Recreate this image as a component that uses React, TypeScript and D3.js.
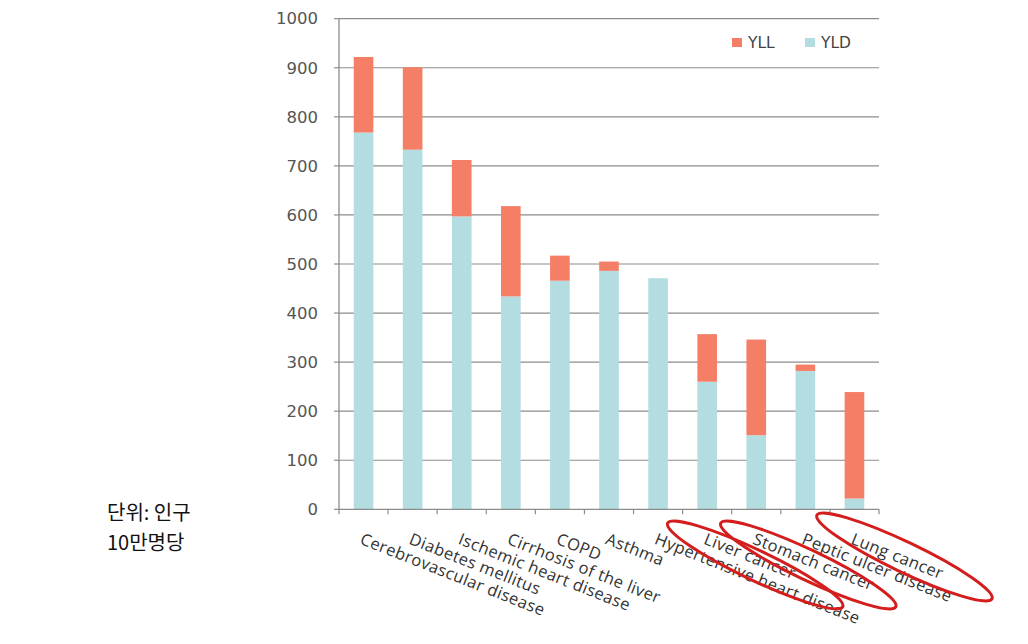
import React from "react";
import * as d3 from "d3";

const categories = [
  "Cerebrovascular disease",
  "Diabetes mellitus",
  "Ischemic heart disease",
  "Cirrhosis of the liver",
  "COPD",
  "Asthma",
  "Hypertensive heart disease",
  "Liver cancer",
  "Stomach cancer",
  "Peptic ulcer disease",
  "Lung cancer",
];
const yld = [768, 733, 597, 434, 466, 486, 471, 260, 151, 282, 22];
const yll = [154, 168, 115, 184, 51, 19, 0, 97, 195, 13, 217];
const yTicks = [0, 100, 200, 300, 400, 500, 600, 700, 800, 900, 1000];
const highlighted = ["Liver cancer", "Stomach cancer", "Lung cancer"];
const legendItems = ["YLL", "YLD"];

const COL_YLL = "#F47F66";
const COL_YLD = "#B3DDE1";

export default function App() {
  const left = 339, right = 879, top = 18.7, bottom = 509.3;
  const x = d3.scaleBand<string>().domain(categories).range([left, right]).paddingInner(0.6).paddingOuter(0.3);
  const xb = d3.scaleBand<string>().domain(categories).range([left, right]);
  const y = d3.scaleLinear().domain([0, 1000]).range([bottom, top]);
  const stacked = categories.map((c, i) => ({ c, yld: yld[i], yll: yll[i] }));
  const legendColors: Record<string, string> = { YLL: COL_YLL, YLD: COL_YLD };
  const legendX = [732, 805];
  return (
    <svg width={1028} height={644} style={{ position: "absolute", left: 0, top: 0, background: "#fff" }}>
      {/* gridlines */}
      {yTicks.filter((t) => t > 0).map((t) => (
        <line key={t} x1={left} x2={right} y1={y(t)} y2={y(t)} stroke="#8c8c8c" strokeWidth={1.2} />
      ))}
      {/* y tick marks and labels */}
      {yTicks.map((t) => (
        <g key={"yt" + t}>
          <line x1={left - 5} x2={left} y1={y(t)} y2={y(t)} stroke="#8c8c8c" strokeWidth={1.2} />
          <text x={318} y={y(t)} dy="0.35em" textAnchor="end" fontFamily="DejaVu Sans" fontSize={16.5} fill="#555">
            {t}
          </text>
        </g>
      ))}
      {/* bars */}
      {stacked.map((d) => (
        <g key={d.c}>
          <rect x={x(d.c)} width={x.bandwidth()} y={y(d.yld)} height={y(0) - y(d.yld)} fill={COL_YLD} />
          {d.yll > 0 && (
            <rect x={x(d.c)} width={x.bandwidth()} y={y(d.yld + d.yll)} height={y(d.yld) - y(d.yld + d.yll)} fill={COL_YLL} />
          )}
        </g>
      ))}
      {/* axes */}
      <line x1={left} x2={left} y1={top} y2={bottom} stroke="#8c8c8c" strokeWidth={1.3} />
      <line x1={left} x2={right} y1={bottom} y2={bottom} stroke="#8c8c8c" strokeWidth={1.3} />
      {categories.map((c) => (
        <line key={"xt" + c} x1={xb(c)} x2={xb(c)} y1={bottom} y2={bottom + 5} stroke="#8c8c8c" strokeWidth={1.2} />
      ))}
      <line x1={right} x2={right} y1={bottom} y2={bottom + 5} stroke="#8c8c8c" strokeWidth={1.2} />
      {/* x labels */}
      {categories.map((c) => {
        const cx = (xb(c) as number) + xb.bandwidth() / 2;
        return (
          <text key={"xl" + c} transform={`translate(${cx},${532}) rotate(21.6)`} dy="0.75em"
            fontFamily="Open Sans" fontSize={16.5} letterSpacing={0.4} fill="#333">
            {c}
          </text>
        );
      })}
      {/* legend */}
      {legendItems.map((k, i) => (
        <g key={k}>
          <rect x={legendX[i]} y={38} width={10} height={9} fill={legendColors[k]} />
          <text x={legendX[i] + 16} y={43} dy="0.35em" fontFamily="DejaVu Sans" fontSize={15.5} fill="#444">
            {k}
          </text>
        </g>
      ))}
      {/* red highlight ellipses */}
      {highlighted.map((c) => {
        const i = categories.indexOf(c);
        const cx = (xb(c) as number) + xb.bandwidth() / 2;
        const offsets: Record<string, [number, number]> = {
          "Liver cancer": [48, 565],
          "Stomach cancer": [52, 565],
          "Lung cancer": [50, 557],
        };
        const [dx, cy] = offsets[c];
        return (
          <ellipse key={"el" + i} cx={cx + dx} cy={cy} rx={97} ry={15}
            transform={`rotate(25.5 ${cx + dx} ${cy})`} fill="none" stroke="#D41E1E" strokeWidth={3} />
        );
      })}
      {/* unit note */}
      <text x={107} y={520} fontFamily="Noto Sans CJK KR" fontSize={20} fill="#111">단위: 인구</text>
      <text x={107} y={550} fontFamily="Noto Sans CJK KR" fontSize={20} fill="#111">10만명당</text>
    </svg>
  );
}
